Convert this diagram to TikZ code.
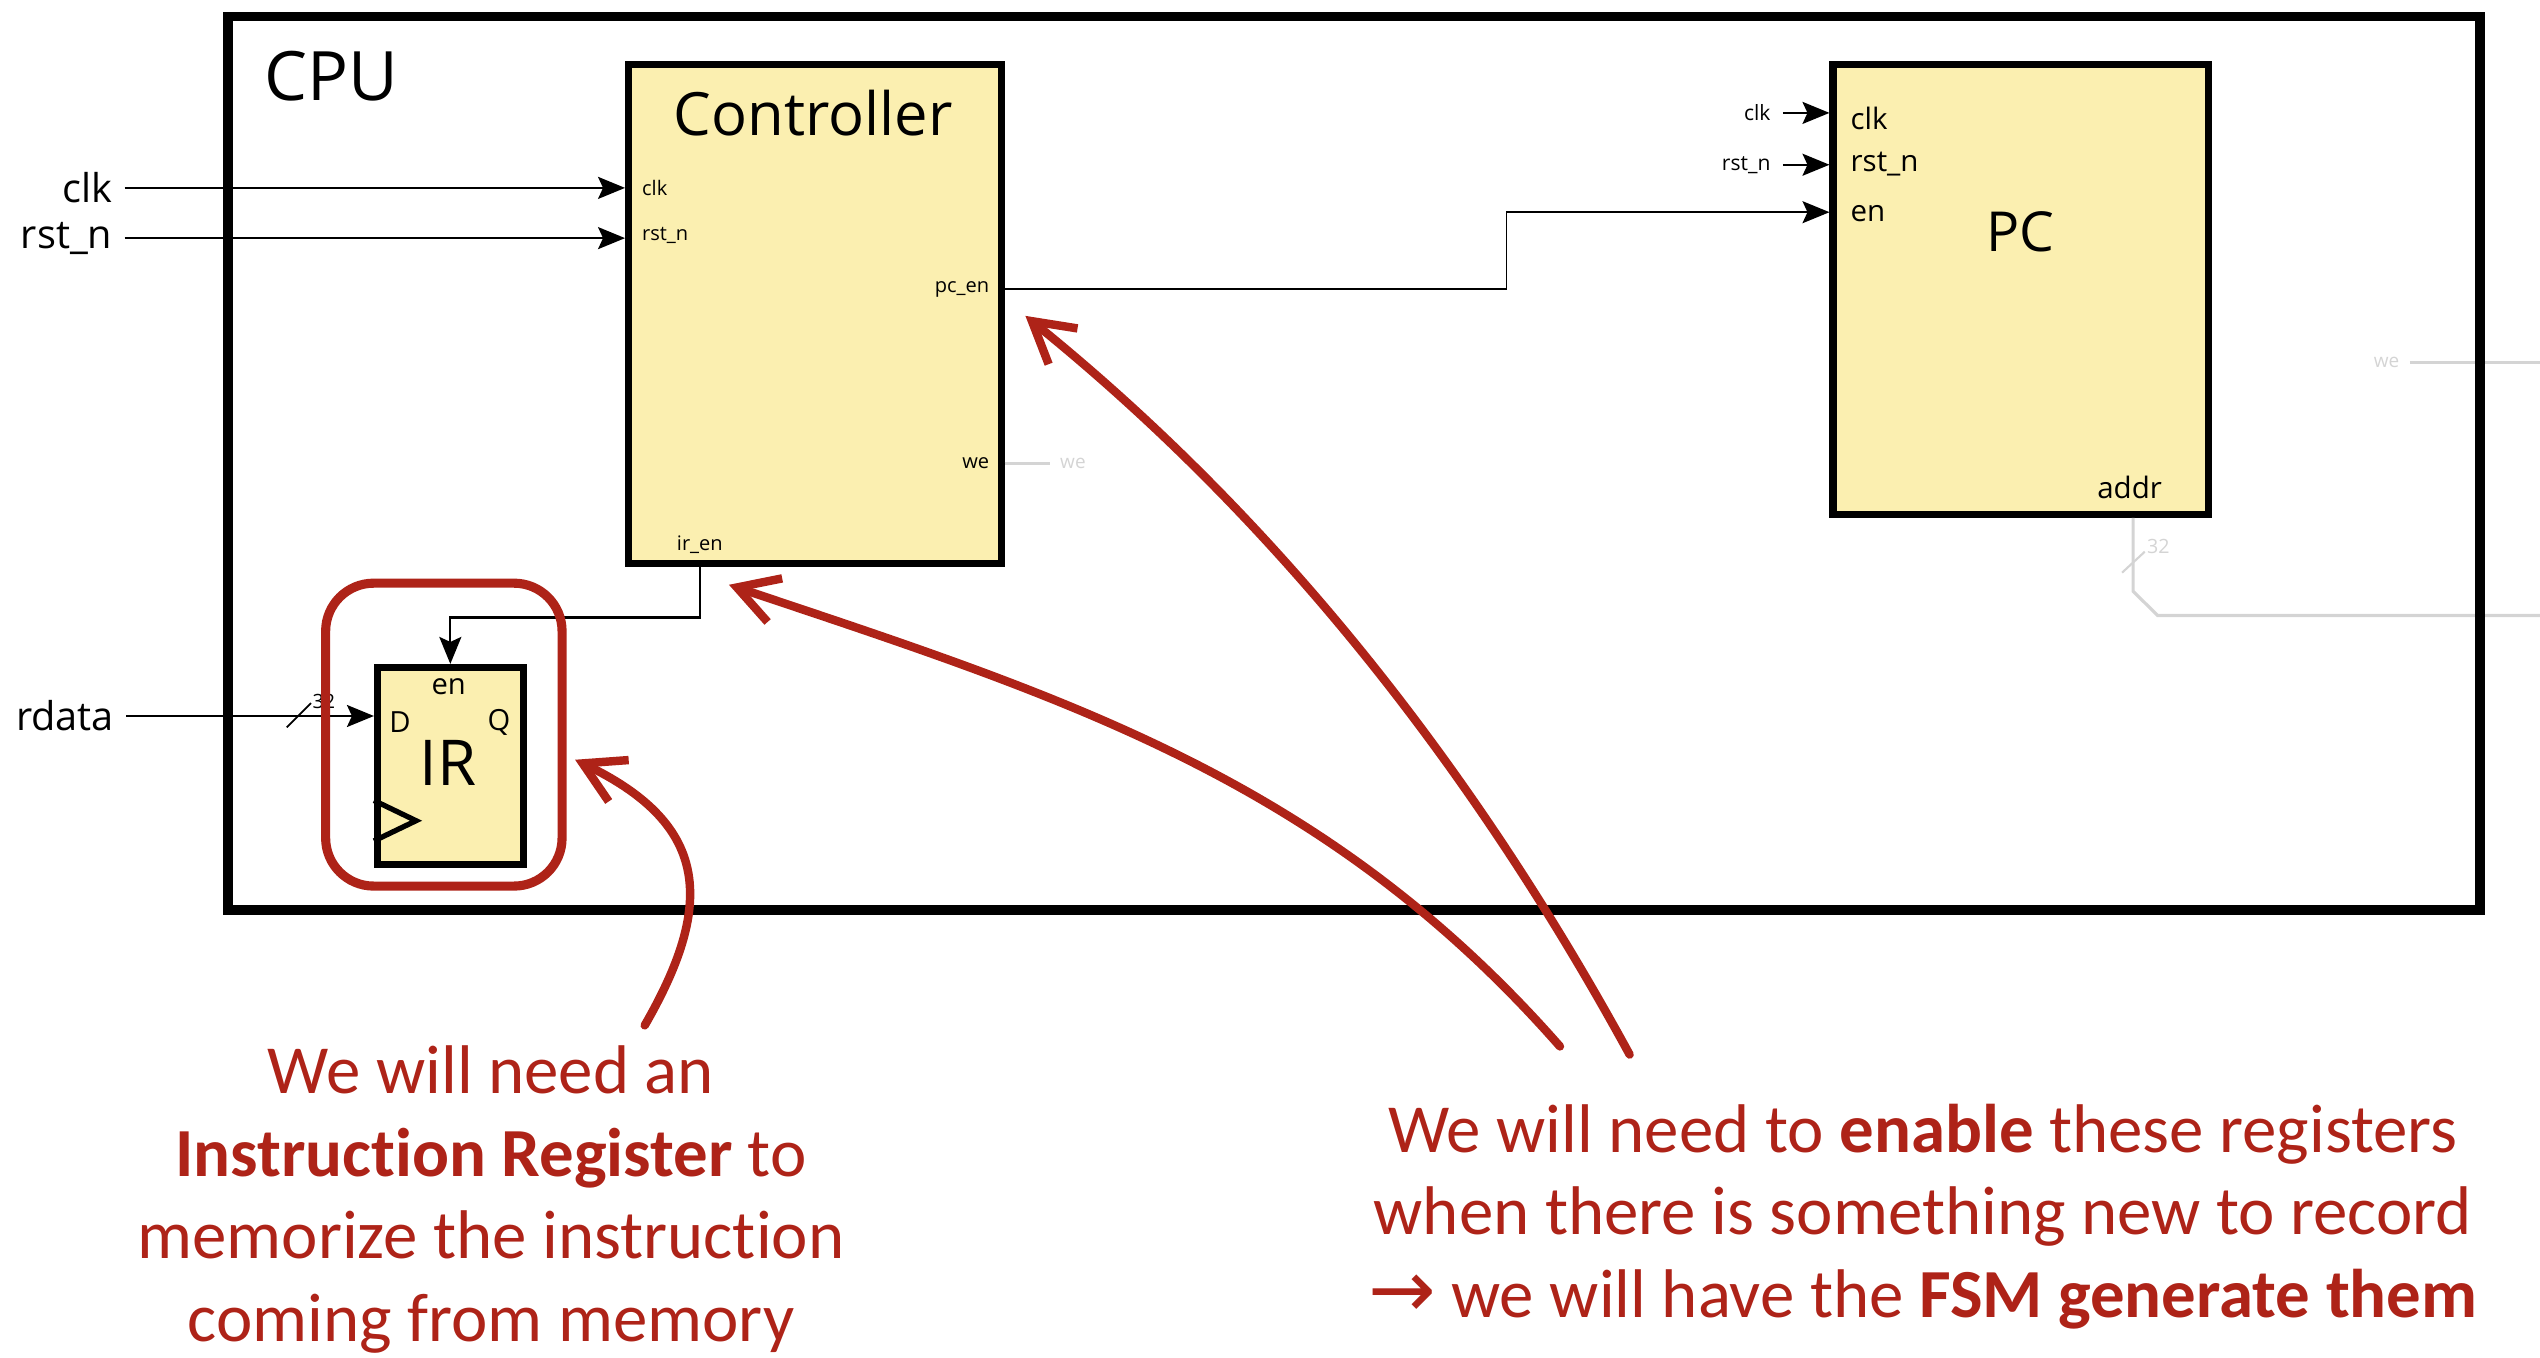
\documentclass[tikz,border=0pt]{standalone}
\usepackage{fontspec}
\setmainfont{Open Sans}
\newfontfamily\notefont[Ligatures=NoCommon]{Carlito}
\newfontfamily\symfont{DejaVu Sans}
\usepackage{xcolor}
\usetikzlibrary{arrows.meta, positioning}

\definecolor{blockfill}{RGB}{251,239,176}
\definecolor{notered}{RGB}{174,35,24}
\definecolor{unused}{RGB}{212,212,212}

\newcommand{\fsz}[1]{\fontsize{#1}{#1}\selectfont}

\tikzset{
    block/.style={draw, line width=2pt, fill=blockfill, inner sep=0pt},
    wire/.style={line width=0.65pt, -{Stealth[length=2.7mm, width=2.2mm, inset=0.5mm]}},
    ghost/.style={draw=unused, line width=0.9pt},
    port/.style={inner sep=0pt, font=\fsz{5.7}},
    pcport/.style={inner sep=0pt, font=\fsz{8.4}},
    extlabel/.style={font=\fsz{11.3}},
    smallext/.style={font=\fsz{6}},
    ghostlabel/.style={text=unused, inner xsep=2.8pt, inner ysep=0pt, font=\fsz{5.4}},
    note/.style={text=notered, align=center, font=\notefont\fontsize{19.6}{23.5}\selectfont},
    callout/.style={draw=notered, line width=2.4pt, line cap=round, -{Straight Barb[length=4mm, width=4.6mm]}}
}

\begin{document}
\begin{tikzpicture}[x=0.0162cm, y=-0.0162cm]
    \useasboundingbox (0,0) rectangle (1568,838.3);

    % blocks
    \node[block, minimum width=3.726cm, minimum height=4.99cm] (ctrl) at (503,194) {};
    \node[block, minimum width=3.758cm, minimum height=4.504cm] (pc) at (1247.5,178.6) {};
    \node[block, minimum width=1.458cm, minimum height=1.976cm] (ir) at (278,473) {};

    % controller
    \node[font=\fsz{17}] (ctrltitle) at (502,70) {Controller};
    \node[port, anchor=west] (cclk) at (396,116) {clk};
    \node[port, anchor=west] (crst) at (396,145.5) {rst\_n};
    \node[port, anchor=east] (cpcen) at (611,178.6) {pc\_en};
    \node[port, anchor=east] (cwe) at (611,286) {we};
    \node[port] (ciren) at (432,336) {ir\_en};

    % pc
    \node[font=\fsz{15.7}] (pctitle) at (1247,143) {PC};
    \node[pcport, anchor=west] (pclk) at (1142,73) {clk};
    \node[pcport, anchor=west] (prst) at (1142,101) {rst\_n};
    \node[pcport, anchor=west] (pen) at (1142,132) {en};
    \node[pcport, anchor=east] (paddr) at (1335,301) {addr};

    % ir
    \node[font=\fsz{18}] (irtitle) at (276.5,471) {IR};
    \node[font=\fsz{8.3}, inner sep=0pt] (iren) at (277,424) {en};
    \node[font=\fsz{8.3}, inner sep=0pt] (ird) at (247,446) {D};
    \node[font=\fsz{8.3}, inner sep=0pt] (irq) at (308,446) {Q};
    \draw[line width=1.5pt] (ir.south west) ++(0,-42) -- ++(26,12.5) -- ++(-26,12.5);

    % inputs
    \node[extlabel, anchor=east] (clk) at (77,116) {clk};
    \node[extlabel, anchor=east] (rstn) at (77,147) {rst\_n};
    \node[extlabel, anchor=east] (rdata) at (78,442) {rdata};
    \node[smallext, anchor=east] (pcclk) at (1100.6,69.7) {clk};
    \node[smallext, anchor=east] (pcrst) at (1100.6,101.7) {rst\_n};

    \draw[wire] (clk.east) -- (clk.east -| ctrl.west);
    \draw[wire] (rstn.east) -- (rstn.east -| ctrl.west);
    \draw[wire] (rdata.east) -- (rdata.east -| ir.west);
    \draw[line width=0.5pt] (177,449) -- (192,434);
    \node[font=\fsz{5.6}, inner sep=0pt, anchor=west] (rdatawidth) at (192.5,433) {32};
    \draw[wire] (pcclk.east) -- (pcclk.east -| pc.west);
    \draw[wire] (pcrst.east) -- (pcrst.east -| pc.west);

    % enables
    \coordinate (pcenbend) at (930,131);
    \draw[wire, line width=0.5pt] (ctrl.east |- cpcen.east) -| (pcenbend) -- (pc.west |- pcenbend);
    \draw[wire] (ctrl.south -| ciren) -- ++(0,31) -| (ir.north);

    % unused signals
    \node[ghostlabel, anchor=west] (wenet) at (648,286) {we};
    \draw[ghost] (ctrl.east |- cwe.east) -- (wenet.west);
    \node[ghostlabel, anchor=east] (wemem) at (1487.6,224) {we};
    \coordinate (wememend) at (1568,224);
    \draw[ghost] (wemem.east) -- (wememend);
    \coordinate (addrtap) at (1316.8,365);
    \coordinate (addrend) at (1568,380);
    \draw[ghost] (pc.south -| addrtap) -- (addrtap) -- (1332,380) -- (addrend);
    \draw[ghost, line width=0.6pt] (1310,353.5) -- (1324,340.6);
    \node[ghostlabel, inner xsep=0pt, font=\fsz{5.6}, anchor=west] (addrwidth) at (1325,337.5) {32};

    % cpu
    \node[draw, line width=2.8pt, minimum width=22.52cm, minimum height=8.94cm] (cpu) at (835.85,286) {};
    \node[font=\fsz{19.4}] (cpulabel) at (204.6,47) {CPU};

    % notes
    \node[draw=notered, line width=2.6pt, rounded corners=0.48cm, minimum width=2.365cm, minimum height=3.03cm] (irmark) at (274,453.5) {};
    \node[note] (irnote) at (303,740.5) {We will need an\\\textbf{Instruction Register} to\\memorize the instruction\\coming from memory};
    \node[note] (ennote) at (1187,751) {We will need to \textbf{enable} these registers\\when there is something new to record\\{\symfont\fontsize{23}{23.5}\selectfont →} we will have the \textbf{FSM generate them}};

    \coordinate (irfrom) at (398,633);
    \coordinate (irpoint) at (355,469);
    \coordinate (irenfrom) at (963,646);
    \coordinate (irenpoint) at (450,361);
    \coordinate (pcenfrom) at (1006,651);
    \coordinate (pcenpoint) at (633,195);
    \draw[callout] (irfrom) .. controls (440,560) and (440,510) .. (irpoint);
    \draw[callout] (irenfrom) .. controls (818,481) and (659,431) .. (irenpoint);
    \draw[callout] (pcenfrom) .. controls (910,475) and (789,321) .. (pcenpoint);

\end{tikzpicture}
\end{document}
